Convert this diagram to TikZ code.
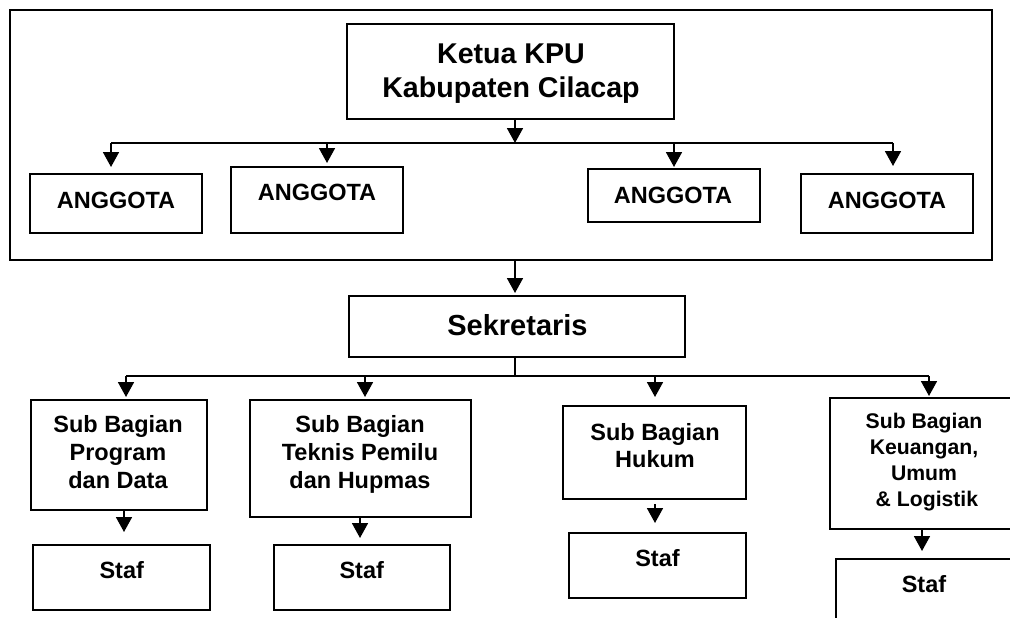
\documentclass[tikz,border=0pt]{standalone}
\usepackage{fontspec}
\setmainfont{Liberation Sans}
\usetikzlibrary{arrows.meta}

\tikzset{
	box/.style={draw, line width=2pt, inner sep=0pt},
	lbl/.style={font=\bfseries\fontsize{23.5}{28}\selectfont, align=center, anchor=base, inner sep=0pt},
	biglbl/.style={lbl, font=\bfseries\fontsize{28.6}{34}\selectfont},
	smalllbl/.style={lbl, font=\bfseries\fontsize{21.2}{25.9}\selectfont},
	ln/.style={line width=1.8pt},
	arr/.style={ln, -{Triangle[width=16pt,length=15pt]}}
}

\begin{document}
\begin{tikzpicture}[x=1pt,y=-1pt]
	\useasboundingbox (0,0) rectangle (1010,618);
	\clip (0,0) rectangle (1010,618);
	
	% pimpinan KPU
	\node[box, minimum width=982, minimum height=250] (kpu) at (501,135) {};
	\node[box, minimum width=327, minimum height=95] (ketua) at (510.5,71.5) {};
	\node[biglbl] (ketuat) at (511,97) {Ketua KPU\\Kabupaten Cilacap};
	
	\node[box, minimum width=172, minimum height=59] (a1) at (116,203.5) {};
	\node[box, minimum width=172, minimum height=66] (a2) at (317,200) {};
	\node[box, minimum width=172, minimum height=53] (a3) at (674,195.5) {};
	\node[box, minimum width=172, minimum height=59] (a4) at (887,203.5) {};
	\node[lbl] (a1t) at (116,208) {ANGGOTA};
	\node[lbl] (a2t) at (317,200) {ANGGOTA};
	\node[lbl] (a3t) at (673,203) {ANGGOTA};
	\node[lbl] (a4t) at (887,208) {ANGGOTA};
	
	\coordinate (bus1) at (515,143);
	\coordinate (j1) at (111,143);
	\coordinate (j2) at (327,143);
	\coordinate (j3) at (674,143);
	\coordinate (j4) at (893,143);
	\draw[arr] (bus1 |- ketua.south) -- (bus1);
	\draw[ln] (j1) -- (j4);
	\draw[arr, shorten >=6pt] (j1) -- (j1 |- a1.north);
	\draw[arr, shorten >=3pt] (j2) -- (j2 |- a2.north);
	\draw[arr, shorten >=1pt] (j3) -- (j3 |- a3.north);
	\draw[arr, shorten >=7pt] (j4) -- (j4 |- a4.north);
	
	% sekretariat
	\node[box, minimum width=336, minimum height=61] (sek) at (517,326.5) {};
	\node[biglbl, font=\bfseries\fontsize{29}{34}\selectfont] (sekt) at (517.5,335) {Sekretaris};
	\draw[arr, shorten >=2pt] (bus1 |- kpu.south) -- (bus1 |- sek.north);
	
	\node[box, minimum width=176, minimum height=110] (s1) at (119,455) {};
	\node[box, minimum width=221, minimum height=117] (s2) at (360.5,458.5) {};
	\node[box, minimum width=183, minimum height=93] (s3) at (654.5,452.5) {};
	\node[box, minimum width=185, minimum height=131] (s4) at (922.5,463.5) {};
	\node[lbl] (s1t) at (118,488) {Sub Bagian\\Program\\dan Data};
	\node[lbl] (s2t) at (360,488) {Sub Bagian\\Teknis Pemilu\\dan Hupmas};
	\node[lbl, font=\bfseries\fontsize{23.5}{27}\selectfont] (s3t) at (655,467) {Sub Bagian\\Hukum};
	\node[smalllbl] (s4t) at (924,506) {Sub Bagian\\Keuangan,\\Umum\\\ \& Logistik};
	
	\coordinate (bus2) at (515,376);
	\coordinate (k1) at (126,376);
	\coordinate (k2) at (365,376);
	\coordinate (k3) at (655,376);
	\coordinate (k4) at (929,376);
	\draw[ln] (bus2 |- sek.south) -- (bus2);
	\draw[ln] (k1) -- (k4);
	\draw[arr, shorten >=2pt] (k1) -- (k1 |- s1.north);
	\draw[arr, shorten >=2pt] (k2) -- (k2 |- s2.north);
	\draw[arr, shorten >=8pt] (k3) -- (k3 |- s3.north);
	\draw[arr, shorten >=1pt] (k4) -- (k4 |- s4.north);
	
	% staf
	\node[box, minimum width=177, minimum height=65] (f1) at (121.5,577.5) {};
	\node[box, minimum width=176, minimum height=65] (f2) at (362,577.5) {};
	\node[box, minimum width=177, minimum height=65] (f3) at (657.5,565.5) {};
	\node[box, minimum width=177, minimum height=81] (f4) at (924.5,599.5) {};
	\node[lbl] (f1t) at (121.7,578) {Staf};
	\node[lbl] (f2t) at (361.7,578) {Staf};
	\node[lbl] (f3t) at (657.5,566) {Staf};
	\node[lbl] (f4t) at (924,592.7) {Staf};
	
	\draw[arr, shorten >=12pt] ([xshift=5pt]s1.south) -- ([xshift=5pt]s1.south |- f1.north);
	\draw[arr, shorten >=6pt] ([xshift=-0.5pt]s2.south) -- ([xshift=-0.5pt]s2.south |- f2.north);
	\draw[arr, shorten <=4pt, shorten >=9pt] ([xshift=0.5pt]s3.south) -- ([xshift=0.5pt]s3.south |- f3.north);
	\draw[arr, shorten >=7pt] ([xshift=-0.5pt]s4.south) -- ([xshift=-0.5pt]s4.south |- f4.north);
\end{tikzpicture}
\end{document}
